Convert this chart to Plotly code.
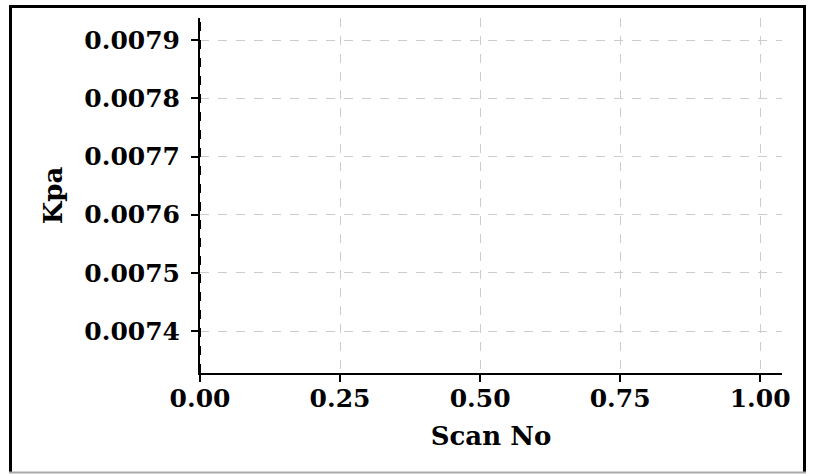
import plotly.graph_objects as go

# readings (all taken at scan 0)
scan_no = [0, 0]
kpa = [0.007328, 0.007938]

x_ticks = [0, 0.25, 0.5, 0.75, 1.0]
x_labels = ["0.00", "0.25", "0.50", "0.75", "1.00"]
y_ticks = [0.0074, 0.0075, 0.0076, 0.0077, 0.0078, 0.0079]
y_labels = ["0.0074", "0.0075", "0.0076", "0.0077", "0.0078", "0.0079"]

font_family = "DejaVu Serif"
W, H = 813, 474
L, R, T, B = 200, 31, 18, 101
PW, PH = W - L - R, H - T - B


def px(x):
    return (x - L) / PW


def py(y):
    return (H - B - y) / PH


fig = go.Figure()
fig.add_trace(go.Scatter(x=scan_no, y=kpa, mode="lines",
                         line=dict(color="black", width=2, dash="dash"),
                         showlegend=False, hoverinfo="skip"))

axis_common = dict(showline=True, linecolor="black", linewidth=2,
                   ticks="outside", ticklen=7, tickwidth=2, tickcolor="black",
                   showgrid=True, gridcolor="#cccccc", griddash="dash", gridwidth=1,
                   zeroline=False, automargin=False,
                   tickfont=dict(family=font_family, size=25, color="black", weight="bold"),
                   title_font=dict(family=font_family, size=26, color="black", weight="bold"))

fig.update_xaxes(range=[0, 1.039], tickvals=x_ticks, ticktext=x_labels,
                 ticklabelstandoff=-5,
                 title_text="Scan No", title_standoff=15, **axis_common)
fig.update_yaxes(range=[0.007328, 0.007938], tickvals=y_ticks, ticktext=y_labels,
                 ticklabelstandoff=6,
                 title_text="Kpa", title_standoff=14, **axis_common)

# frame around the whole figure
frame = [
    dict(x0=px(9.5), x1=px(805.5), y0=py(6.5), y1=py(6.5), line=dict(color="black", width=3)),
    dict(x0=px(10.5), x1=px(10.5), y0=py(473), y1=py(5), line=dict(color="black", width=3)),
    dict(x0=px(804.5), x1=px(804.5), y0=py(473), y1=py(5), line=dict(color="black", width=3)),
    dict(x0=px(9), x1=px(806), y0=py(472.5), y1=py(472.5), line=dict(color="#aaaaaa", width=2)),
]
for f in frame:
    f.update(type="line", xref="paper", yref="paper")

fig.update_layout(
    width=W, height=H,
    margin=dict(l=L, r=R, t=T, b=B),
    paper_bgcolor="white", plot_bgcolor="white",
    shapes=frame,
)

fig.write_html("out.html", config={"displayModeBar": False},
               post_script="document.body.style.margin='0px';")
